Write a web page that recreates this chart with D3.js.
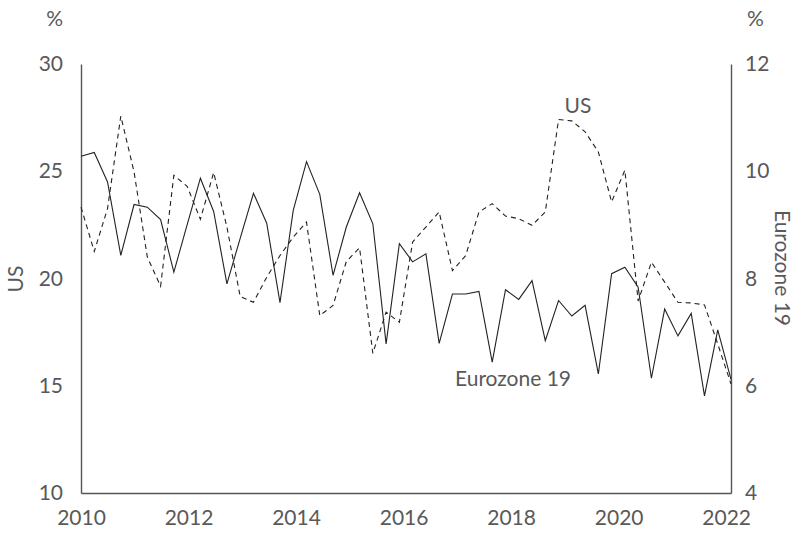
<!DOCTYPE html>
<html><head><meta charset="utf-8">
<script src="https://cdn.jsdelivr.net/npm/d3@7"></script>
<style>
body{margin:0;background:#fff;}
text{font-family:Lato,"Open Sans",sans-serif;fill:#595959;}
</style></head>
<body><svg id="c" width="795" height="533"></svg>
<script>
// Quarterly observations, 2010 Q1 onward
const periodYears = [2010, 2022.09];
const usValues = [23.33,21.26,23.26,27.57,24.97,21.0,19.64,24.81,24.30,22.76,24.94,22.40,19.16,18.89,20.06,21.07,21.93,22.63,
  18.27,18.74,20.79,21.43,16.51,18.43,17.96,21.70,22.40,23.10,20.37,21.07,23.10,23.49,22.91,22.79,22.48,23.10,
  27.41,27.35,26.84,25.90,23.57,25.05,18.95,20.76,19.83,18.89,18.86,18.77,16.95,15.08];
const ezValues = [10.28,10.35,9.80,8.43,9.38,9.33,9.10,8.12,9.0,9.87,9.25,7.90,8.75,9.59,9.03,7.55,9.27,10.18,
  9.57,8.06,8.96,9.60,9.02,6.78,8.65,8.31,8.46,6.79,7.71,7.71,7.76,6.44,7.79,7.61,7.96,6.84,
  7.59,7.30,7.50,6.22,8.09,8.21,7.84,6.14,7.43,6.93,7.35,5.81,7.04,6.12];
const yearTicks = [2010,2012,2014,2016,2018,2020,2022];
const usTicks = [10,15,20,25,30];
const ezTicks = [4,6,8,10,12];

const svg = d3.select("#c");
const L = 81, R = 731, T = 64, B = 493;
const FS = "21px";
const step = (periodYears[1]-periodYears[0])/(usValues.length-1);
const t = i => periodYears[0] + i*step;
const x = d3.scaleLinear().domain(periodYears).range([L, R]);
const yL = d3.scaleLinear().domain([10,30]).range([B, T]);
const yR = d3.scaleLinear().domain([4,12]).range([B, T]);

// axes
const axStyle = g => { g.select(".domain").attr("stroke","#555").attr("stroke-width",1.4); g.selectAll(".tick line").remove(); g.selectAll("text").style("font-size",FS).style("font-family","Lato").attr("fill","#595959"); };
svg.append("g").attr("transform",`translate(${L},0)`)
  .call(d3.axisLeft(yL).tickValues(usTicks).tickSize(0).tickPadding(18).tickSizeOuter(0)).call(axStyle);
svg.append("g").attr("transform",`translate(${R},0)`)
  .call(d3.axisRight(yR).tickValues(ezTicks).tickSize(0).tickPadding(14).tickSizeOuter(0)).call(axStyle);
svg.append("g").attr("transform",`translate(0,${B})`)
  .call(d3.axisBottom(x).tickValues(yearTicks).tickFormat(d3.format("d")).tickSize(0).tickPadding(17).tickSizeOuter(0)).call(axStyle);

// lines
const lineUS = d3.line().x((d,i)=>x(t(i))).y(d=>yL(d));
const lineEZ = d3.line().x((d,i)=>x(t(i))).y(d=>yR(d));
svg.append("path").datum(ezValues).attr("d",lineEZ).attr("fill","none").attr("stroke","#222").attr("stroke-width",1.1);
svg.append("path").datum(usValues).attr("d",lineUS).attr("fill","none").attr("stroke","#222").attr("stroke-width",1.1).attr("stroke-dasharray","5,4");

// labels
svg.append("text").attr("x",63).attr("y",26).attr("text-anchor","end").style("font-size",FS).text("%");
svg.append("text").attr("x",747).attr("y",26).style("font-size",FS).text("%");
svg.append("text").attr("transform","translate(23,279) rotate(-90)").attr("text-anchor","middle").style("font-size",FS).text("US");
svg.append("text").attr("transform","translate(775,268) rotate(90)").attr("text-anchor","middle").style("font-size",FS).text("Eurozone 19");
svg.append("text").attr("x",578).attr("y",113).attr("text-anchor","middle").style("font-size",FS).text("US");
svg.append("text").attr("x",455).attr("y",386).style("font-size",FS).text("Eurozone 19");
</script></body></html>
